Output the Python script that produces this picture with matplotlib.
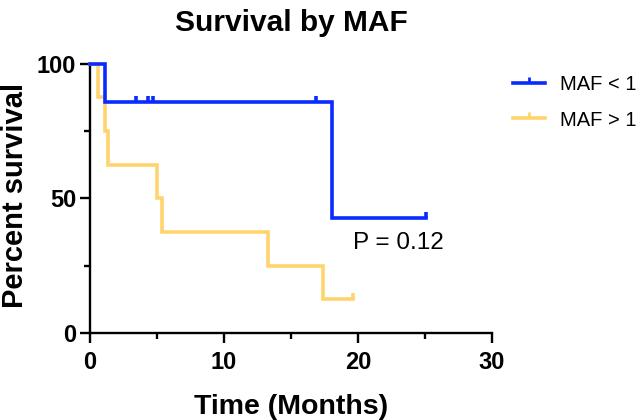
import numpy as np
import matplotlib
matplotlib.use("Agg")
import matplotlib.pyplot as plt
from matplotlib.path import Path
from matplotlib.lines import Line2D

plt.rcParams['font.family'] = ['Liberation Sans', 'DejaVu Sans']

# Data: survival times (months) and event flags (1 = death, 0 = censored)
low_times = [1.1, 3.4, 4.3, 4.7, 16.9, 18.1, 25.1]
low_events = [1, 0, 0, 0, 0, 1, 0]
high_times = [0.6, 1.1, 1.35, 5.0, 5.4, 13.3, 17.4, 19.6]
high_events = [1, 1, 1, 1, 1, 1, 1, 0]
labels = ["MAF < 1", "MAF > 1"]
colors = ["#0a2bff", "#ffd36e"]
p_text = "P = 0.12"


def km(times, events):
    t = np.array(times, float)
    e = np.array(events, int)
    order = np.argsort(t)
    t, e = t[order], e[order]
    n = len(t)
    s = 1.0
    xs, ys = [0.0], [100.0]
    cens_x, cens_y = [], []
    at_risk = n
    for ti, ei in zip(t, e):
        if ei == 1:
            xs.append(ti); ys.append(s * 100)
            s *= (at_risk - 1) / at_risk
            xs.append(ti); ys.append(s * 100)
        else:
            cens_x.append(ti); cens_y.append(s * 100)
        at_risk -= 1
    xs.append(t[-1]); ys.append(s * 100)
    return xs, ys, cens_x, cens_y


tick_marker = Path([(0, 0), (0, 1)])

fig = plt.figure(figsize=(6.4, 4.2), dpi=100)
ax = fig.add_axes([0.1406, 0.207, 0.628, 0.641])

series = [(low_times, low_events, labels[0], colors[0]),
          (high_times, high_events, labels[1], colors[1])]
# draw yellow first, then blue on top
for tt, ee, lab, col in series[::-1]:
    xs, ys, cx, cy = km(tt, ee)
    ax.plot(xs, ys, color=col, lw=2.6, solid_joinstyle='miter', clip_on=False, zorder=3)
    ax.plot(cx, cy, linestyle='none', marker=tick_marker, markersize=9,
            markeredgewidth=2.6, color=col, clip_on=False, zorder=3)

ax.set_xlim(0, 30)
ax.set_ylim(0, 100)
ax.set_xticks([0, 10, 20, 30])
ax.set_xticks([5, 15, 25], minor=True)
ax.set_yticks([0, 50, 100])
ax.set_yticks([25, 75], minor=True)
for s in ['top', 'right']:
    ax.spines[s].set_visible(False)
for s in ['left', 'bottom']:
    ax.spines[s].set_linewidth(1.7)
ax.tick_params(which='major', length=7, width=1.7, labelsize=17, pad=3)
ax.tick_params(axis='x', which='major', pad=6)
ax.tick_params(which='minor', length=4, width=1.7)
for lab in ax.get_xticklabels() + ax.get_yticklabels():
    lab.set_fontweight('bold')

ax.set_xlabel("Time (Months)", fontsize=20.5, fontweight='bold', labelpad=14)
ax.set_ylabel("Percent survival", fontsize=21, fontweight='bold')
ax.yaxis.set_label_coords(-0.152, 0.51)
ax.set_title("Survival by MAF", fontsize=21.5, fontweight='bold', pad=24)

ax.text(19.6, 33.5, p_text, fontsize=17.5, va='center', ha='left')

handles = [Line2D([0], [0], color=c, lw=2.6, marker=tick_marker, markersize=8,
                  markeredgewidth=2.0) for c in colors]
leg = fig.legend(handles, labels, loc='upper left',
                 bbox_to_anchor=(513 / 640, 1 - 75 / 420),
                 frameon=False, fontsize=14.5, handlelength=1.6, handletextpad=0.75,
                 labelspacing=0.82, numpoints=1, borderpad=0, borderaxespad=0)

fig.savefig("out.png", dpi=100)
